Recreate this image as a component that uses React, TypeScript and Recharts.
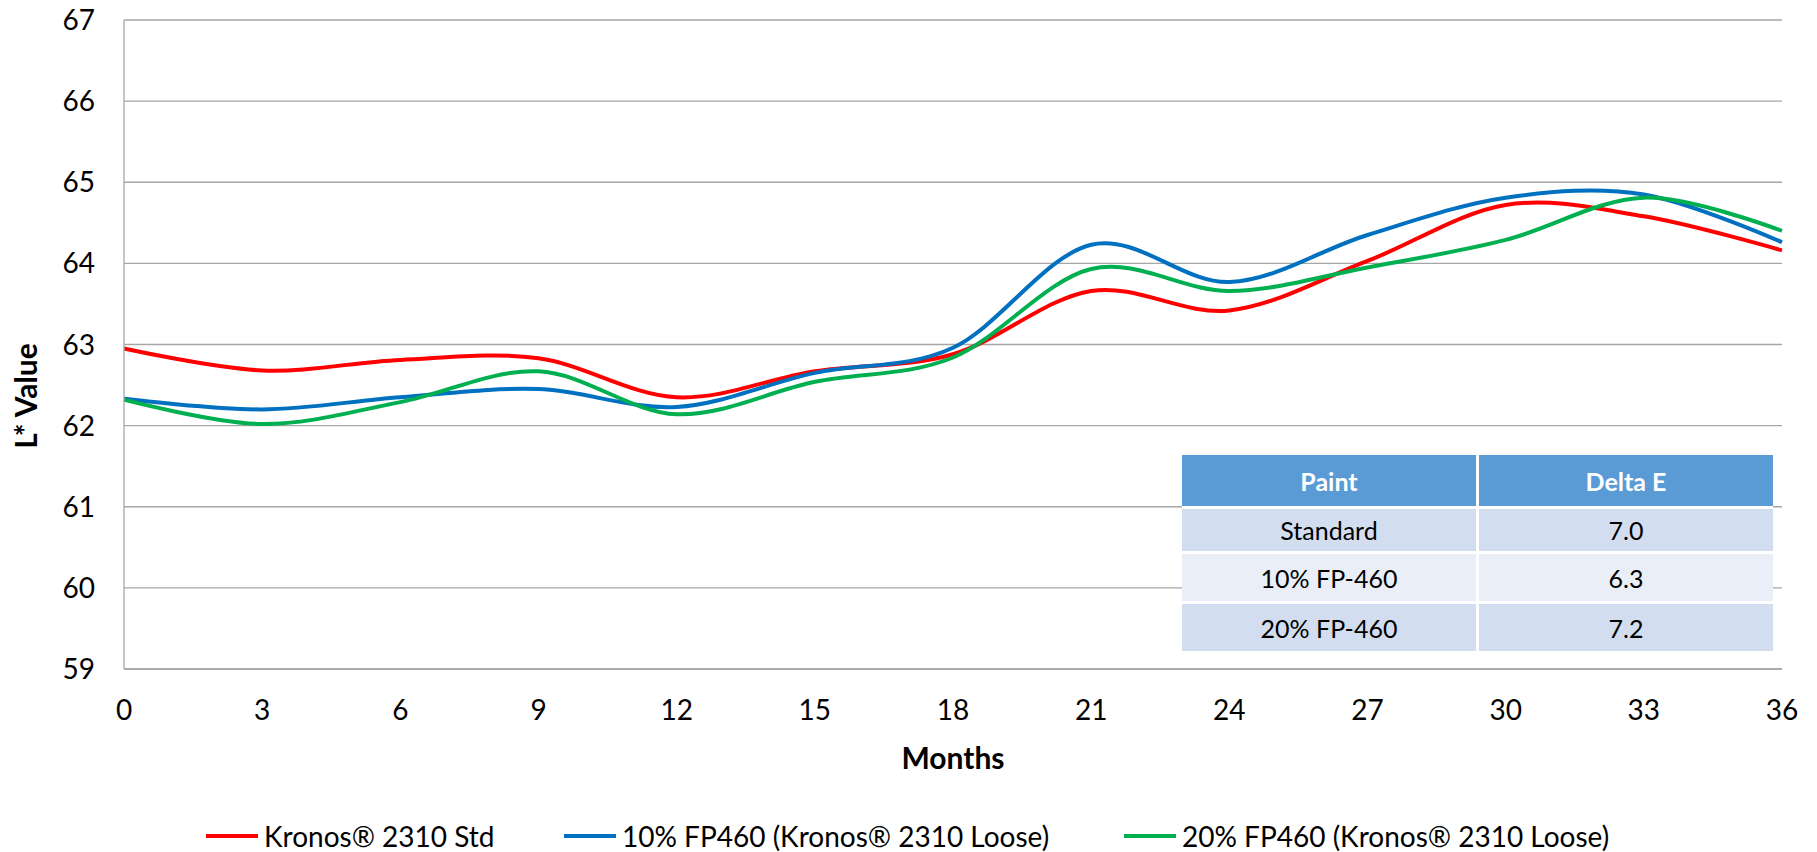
import React from 'react';
import { LineChart, Line, XAxis, YAxis, CartesianGrid, Label } from 'recharts';

// Months of exposure
const months = [0, 3, 6, 9, 12, 15, 18, 21, 24, 27, 30, 33, 36];

// L* readings per series
const kronosStd = [62.95, 62.68, 62.81, 62.83, 62.35, 62.67, 62.88, 63.66, 63.42, 64.03, 64.72, 64.58, 64.16];
const fp460Loose10 = [62.33, 62.2, 62.35, 62.45, 62.23, 62.65, 62.96, 64.23, 63.77, 64.35, 64.81, 64.85, 64.26];
const fp460Loose20 = [62.32, 62.02, 62.29, 62.67, 62.14, 62.54, 62.84, 63.93, 63.66, 63.95, 64.29, 64.81, 64.4];

const yTicks = [59, 60, 61, 62, 63, 64, 65, 66, 67];

const seriesKeys = ['std', 'loose10', 'loose20'];
const seriesNames = ['Kronos® 2310 Std', '10% FP460 (Kronos® 2310 Loose)', '20% FP460 (Kronos® 2310 Loose)'];
const seriesColors = ['#FF0000', '#0070C0', '#00B050'];

// Delta E summary table
const tableHeaders = ['Paint', 'Delta E'];
const paintNames = ['Standard', '10% FP-460', '20% FP-460'];
const deltaE = [7.0, 6.3, 7.2];

const data = months.map((m, i) => ({
  month: m,
  std: kronosStd[i],
  loose10: fp460Loose10[i],
  loose20: fp460Loose20[i],
}));

const FONT = 'Lato, "Open Sans", "Noto Sans", sans-serif';
const GRID = '#A6A6A6';
const TICK_SIZE = 28;
const TITLE_SIZE = 30;

// Legend entry left edges
const legendLefts = [206, 564, 1124];

// Smooth curve through every point (Catmull-Rom style cardinal spline)
class SmoothCurve {
  _context: any;
  _k: number;
  _line: number = NaN;
  _point = 0;
  _x0 = NaN; _x1 = NaN; _x2 = NaN;
  _y0 = NaN; _y1 = NaN; _y2 = NaN;
  constructor(context: any, tension: number) {
    this._context = context;
    this._k = (1 - tension) / 6;
  }
  areaStart() { this._line = 0; }
  areaEnd() { this._line = NaN; }
  lineStart() {
    this._x0 = this._x1 = this._x2 = this._y0 = this._y1 = this._y2 = NaN;
    this._point = 0;
  }
  lineEnd() {
    switch (this._point) {
      case 2: this._context.lineTo(this._x2, this._y2); break;
      case 3: this.seg(this._x1, this._y1); break;
    }
    if (this._line || (this._line !== 0 && this._point === 1)) this._context.closePath();
    this._line = 1 - this._line;
  }
  seg(x: number, y: number) {
    this._context.bezierCurveTo(
      this._x1 + this._k * (this._x2 - this._x0),
      this._y1 + this._k * (this._y2 - this._y0),
      this._x2 + this._k * (this._x1 - x),
      this._y2 + this._k * (this._y1 - y),
      this._x2,
      this._y2
    );
  }
  point(x: number, y: number) {
    x = +x; y = +y;
    switch (this._point) {
      case 0:
        this._point = 1;
        if (this._line) this._context.lineTo(x, y); else this._context.moveTo(x, y);
        break;
      case 1:
        this._point = 2; this._x1 = x; this._y1 = y;
        break;
      case 2:
        this._point = 3;
        this.seg(x, y);
        break;
      default:
        this.seg(x, y);
        break;
    }
    this._x0 = this._x1; this._x1 = this._x2; this._x2 = x;
    this._y0 = this._y1; this._y1 = this._y2; this._y2 = y;
  }
}
const smoothCurve = (context: any) => new SmoothCurve(context, 0);

const XTick = (props: any) => (
  <text x={props.x} y={props.y + 51} textAnchor="middle" fontSize={TICK_SIZE} fontFamily={FONT} fill="#000">
    {props.payload.value}
  </text>
);

const YTick = (props: any) => (
  <text x={props.x - 29} y={props.y + 10} textAnchor="end" fontSize={TICK_SIZE} fontFamily={FONT} fill="#000">
    {props.payload.value}
  </text>
);

const XTitle = (props: any) => {
  const vb = props.viewBox || {};
  return (
    <text x={vb.x + vb.width / 2} y={vb.y + 100} textAnchor="middle" fontSize={TITLE_SIZE} fontWeight="bold" fontFamily={FONT} fill="#000">
      Months
    </text>
  );
};

const YTitle = () => (
  <text transform="translate(37, 396) rotate(-90)" x={0} y={0} textAnchor="middle" fontSize={TITLE_SIZE} fontWeight="bold" fontFamily={FONT} fill="#000">
    L* Value
  </text>
);

export default function App() {
  const cellBase: React.CSSProperties = {
    display: 'flex',
    alignItems: 'center',
    justifyContent: 'center',
    fontFamily: FONT,
    fontSize: 25,
    color: '#000',
  };
  return (
    <div style={{ position: 'absolute', left: 0, top: 0, width: 1817, height: 852, background: '#fff', overflow: 'hidden' }}>
      <LineChart width={1817} height={852} data={data} margin={{ top: 20, right: 35, bottom: 0, left: 0 }}>
        <CartesianGrid vertical={false} stroke={GRID} strokeWidth={1.3} />
        <XAxis
          dataKey="month"
          type="number"
          domain={[0, 36]}
          ticks={months}
          interval={0}
          tickLine={false}
          tickSize={0}
          tickMargin={0}
          axisLine={{ stroke: GRID, strokeWidth: 1.3 }}
          height={183}
          tick={<XTick />}
        >
          <Label content={<XTitle />} />
        </XAxis>
        <YAxis
          type="number"
          domain={[59, 67]}
          ticks={yTicks}
          interval={0}
          tickLine={false}
          tickSize={0}
          tickMargin={0}
          axisLine={{ stroke: GRID, strokeWidth: 1.3 }}
          width={124}
          tick={<YTick />}
        >
          <Label content={<YTitle />} />
        </YAxis>
        {seriesKeys.map((k, i) => (
          <Line
            key={k}
            dataKey={k}
            name={seriesNames[i]}
            type={smoothCurve as any}
            stroke={seriesColors[i]}
            strokeWidth={4}
            dot={false}
            activeDot={false}
            isAnimationActive={false}
          />
        ))}
      </LineChart>

      {/* Delta E table */}
      <div
        style={{
          position: 'absolute',
          left: 1182,
          top: 455,
          width: 591,
          background: '#fff',
          display: 'grid',
          gridTemplateColumns: '1fr 1fr',
          gridTemplateRows: '46px 47px 47px 47px',
          columnGap: 3,
          rowGap: 3,
        }}
      >
        {tableHeaders.map((h) => (
          <div key={h} style={{ ...cellBase, background: '#5B9BD5', color: '#fff', fontWeight: 'bold', marginBottom: -5 }}>
            {h}
          </div>
        ))}
        {paintNames.map((p, i) => (
          <React.Fragment key={p}>
            <div style={{ ...cellBase, background: i % 2 === 0 ? '#D2DEEF' : '#EAEFF7', marginTop: i === 0 ? 5 : 0 }}>{p}</div>
            <div style={{ ...cellBase, background: i % 2 === 0 ? '#D2DEEF' : '#EAEFF7', marginTop: i === 0 ? 5 : 0 }}>
              {deltaE[i].toFixed(1)}
            </div>
          </React.Fragment>
        ))}
      </div>

      {/* Legend */}
      {seriesNames.map((n, i) => (
        <div
          key={n}
          style={{
            position: 'absolute',
            left: legendLefts[i],
            top: 819,
            height: 34,
            display: 'flex',
            alignItems: 'center',
            fontFamily: FONT,
            fontSize: 28,
            color: '#000',
            whiteSpace: 'nowrap',
          }}
        >
          <div style={{ width: 52, height: 4, background: seriesColors[i], marginRight: 6 }} />
          <span>{n}</span>
        </div>
      ))}
    </div>
  );
}
